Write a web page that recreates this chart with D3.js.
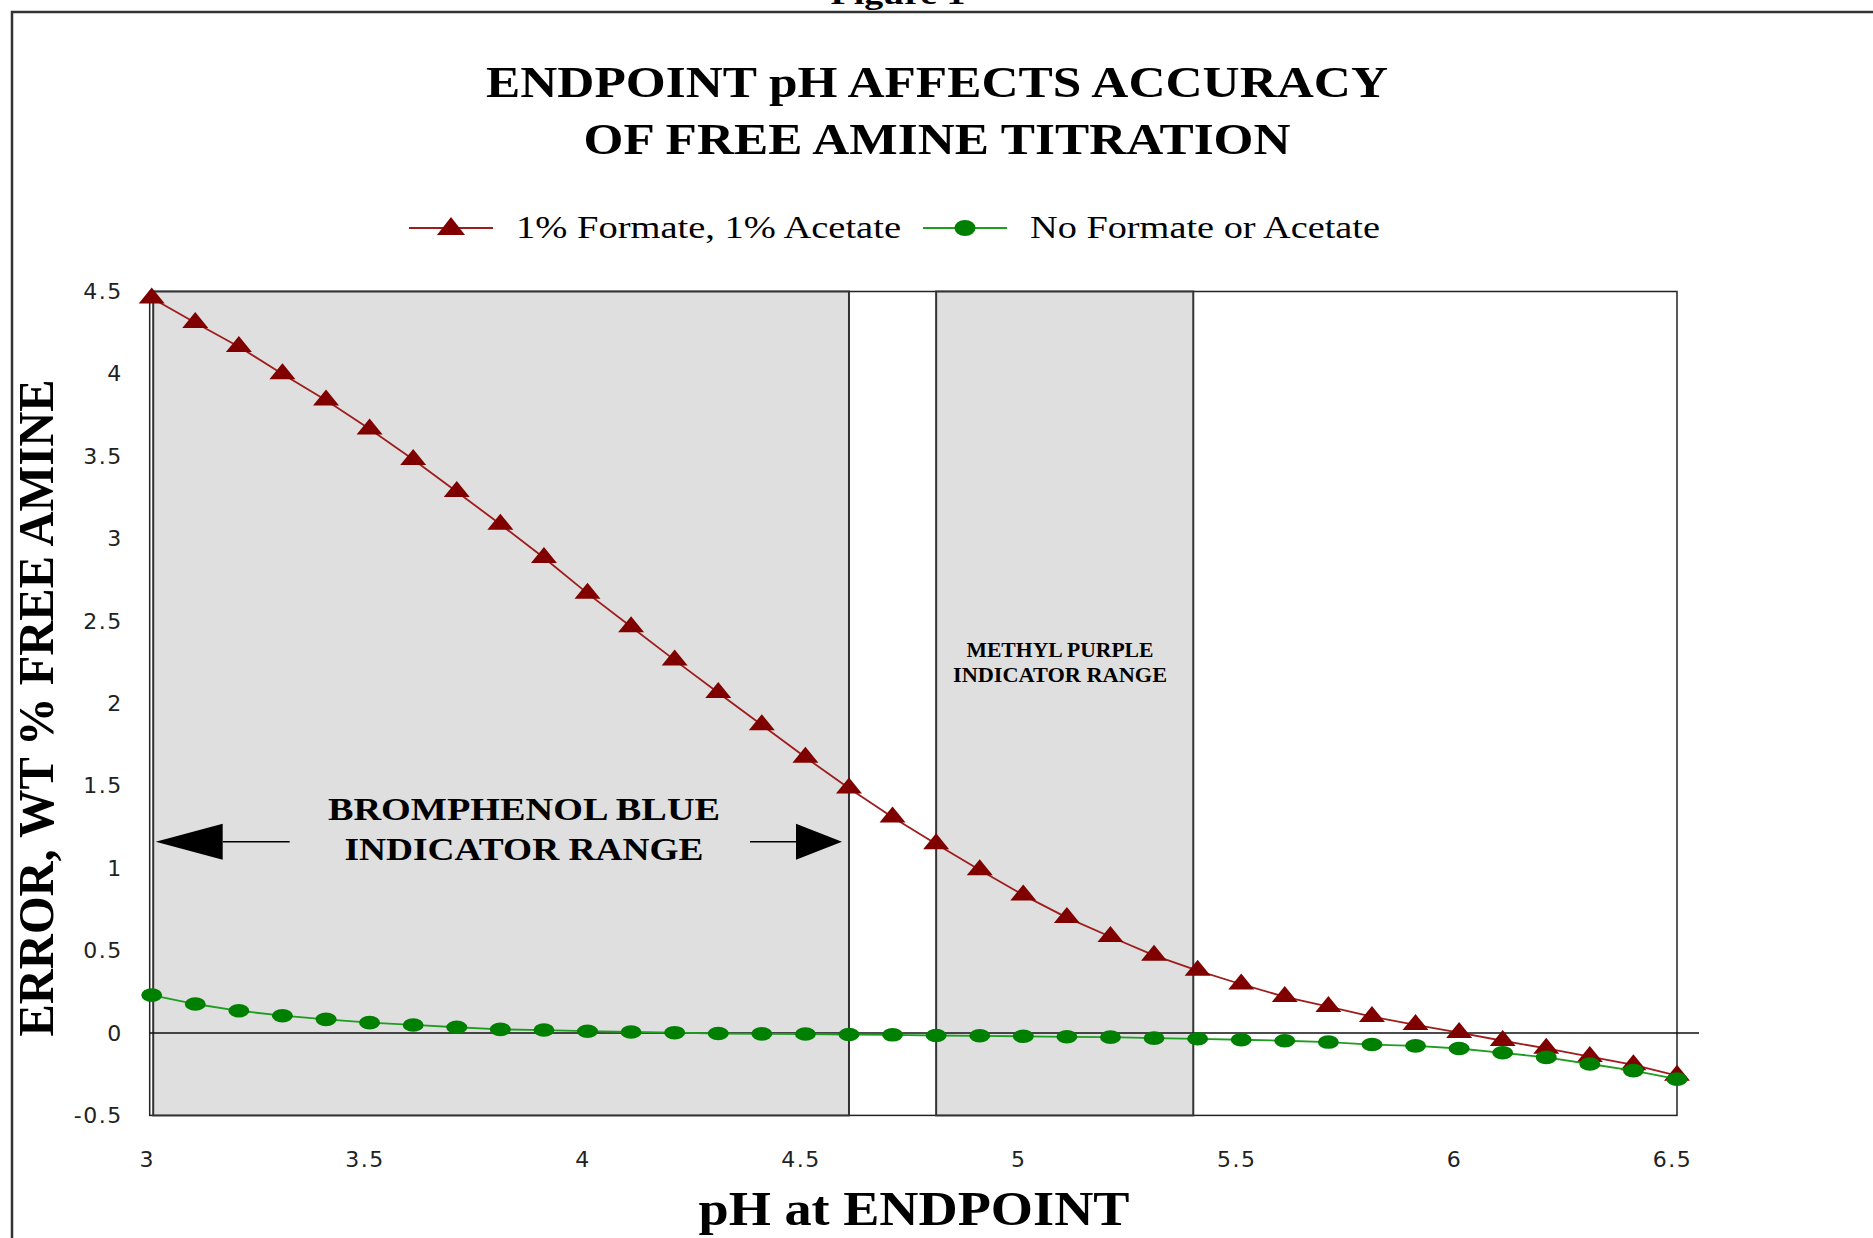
<!DOCTYPE html>
<html>
<head>
<meta charset="utf-8">
<script src="https://cdn.jsdelivr.net/npm/d3@7"></script>
<style>
  html, body { margin: 0; padding: 0; background: white; }
  svg { display: block; }
  .serif { font-family: "Liberation Serif", "Times New Roman", serif; }
  .tick text { font-family: "DejaVu Sans", sans-serif; fill: #222; }
</style>
</head>
<body>
<div id="chart"></div>
<script>
// pH at endpoint (x categories)
const phValues = [3.0, 3.1, 3.2, 3.3, 3.4, 3.5, 3.6, 3.7, 3.8, 3.9,
                  4.0, 4.1, 4.2, 4.3, 4.4, 4.5, 4.6, 4.7, 4.8, 4.9,
                  5.0, 5.1, 5.2, 5.3, 5.4, 5.5, 5.6, 5.7, 5.8, 5.9,
                  6.0, 6.1, 6.2, 6.3, 6.4, 6.5];

// error, wt % free amine
const formateAcetate = [4.46, 4.31, 4.165, 4.00, 3.84, 3.665, 3.48, 3.285, 3.087, 2.884,
                        2.668, 2.465, 2.263, 2.065, 1.869, 1.673, 1.485, 1.309, 1.147, 0.989,
                        0.837, 0.70, 0.584, 0.471, 0.379, 0.296, 0.22, 0.16, 0.099, 0.05,
                        0.002, -0.047, -0.093, -0.144, -0.194, -0.258];
const noFormate = [0.23, 0.176, 0.135, 0.105, 0.083, 0.063, 0.049, 0.035, 0.022, 0.018,
                   0.011, 0.006, 0.002, -0.003, -0.005, -0.006, -0.009, -0.011, -0.015, -0.017,
                   -0.02, -0.023, -0.025, -0.031, -0.035, -0.041, -0.047, -0.055, -0.07, -0.078,
                   -0.094, -0.12, -0.148, -0.188, -0.228, -0.28];

const seriesNames = ["1% Formate, 1% Acetate", "No Formate or Acetate"];

const xTicks = [3, 3.5, 4, 4.5, 5, 5.5, 6, 6.5];
const yTicks = [-0.5, 0, 0.5, 1, 1.5, 2, 2.5, 3, 3.5, 4, 4.5];

// indicator ranges (pH)
const rangeNames = ["BROMPHENOL BLUE", "METHYL PURPLE"];
const rangeLow = [3.0, 4.8];
const rangeHigh = [4.6, 5.39];

const titleLines = ["ENDPOINT pH AFFECTS ACCURACY", "OF FREE AMINE TITRATION"];


class TitrationChart {
    constructor(container, width, height, margin) {
        this.width = width;
        this.height = height;
        this.margin = margin;
        this.svg = container.append("svg")
            .attr("width", width)
            .attr("height", height);
        this.x = d3.scaleLinear()
            .domain([3, 6.5])
            .range([margin.left, width - margin.right]);
        this.y = d3.scaleLinear()
            .domain([-0.5, 4.5])
            .range([height - margin.bottom, margin.top]);
    }

    draw() {
        this.drawFrame();
        this.drawRanges();
        this.drawSeries(formateAcetate, "#9e1c1c", "#800000", "triangle");
        this.drawSeries(noFormate, "#1e9e1e", "#008000", "ellipse");
        this.drawAxes();
        this.drawLegend();
        this.drawTitles();
        this.drawAnnotations();
    }

    // page border + plot box
    drawFrame() {
        this.svg.append("rect")
            .attr("width", this.width).attr("height", this.height)
            .attr("fill", "white");

        // caption is cropped at the top edge in the original
        this.svg.append("text")
            .attr("class", "serif")
            .attr("x", 898).attr("y", 4)
            .attr("text-anchor", "middle")
            .attr("font-weight", "bold")
            .attr("font-size", 30)
            .attr("textLength", 135)
            .attr("lengthAdjust", "spacingAndGlyphs")
            .text("Figure 1");

        this.svg.append("path")
            .attr("d", `M12,${this.height} V12 H${this.width}`)
            .attr("fill", "none")
            .attr("stroke", "#333")
            .attr("stroke-width", 2.5);

        const [x0, x1] = this.x.range();
        const [y0, y1] = this.y.range();
        this.svg.append("rect")
            .attr("x", x0 - 2).attr("y", y1)
            .attr("width", x1 - x0 + 2).attr("height", y0 - y1)
            .attr("fill", "white")
            .attr("stroke", "#222")
            .attr("stroke-width", 1.5);
    }

    drawRanges() {
        const [y0, y1] = this.y.range();
        this.svg.append("g")
            .attr("class", "ranges")
            .selectAll("rect")
            .data(rangeNames)
            .enter().append("rect")
            .attr("x", (d, i) => this.x(rangeLow[i]) + (i === 0 ? 1.5 : 0))
            .attr("y", y1)
            .attr("width", (d, i) => this.x(rangeHigh[i]) - this.x(rangeLow[i]) - (i === 0 ? 1.5 : 0))
            .attr("height", y0 - y1)
            .attr("fill", "#dfdfdf")
            .attr("stroke", "#333")
            .attr("stroke-width", 2);

        // zero line runs a bit past the right edge
        this.svg.append("line")
            .attr("x1", this.x(3) - 2).attr("x2", this.x(6.5) + 22)
            .attr("y1", this.y(0)).attr("y2", this.y(0))
            .attr("stroke", "#111")
            .attr("stroke-width", 1.5);
    }

    drawSeries(values, lineColor, markColor, shape) {
        const pts = phValues.map((p, i) => [p, values[i]]);
        const line = d3.line()
            .x(d => this.x(d[0]))
            .y(d => this.y(d[1]));
        const g = this.svg.append("g");
        g.append("path")
            .attr("d", line(pts))
            .attr("fill", "none")
            .attr("stroke", lineColor)
            .attr("stroke-width", 1.8);
        this.drawMarkers(g, pts, markColor, shape);
    }

    drawMarkers(g, pts, color, shape) {
        if (shape === "triangle") {
            g.selectAll("path.mark")
                .data(pts)
                .enter().append("path")
                .attr("class", "mark")
                .attr("transform", d => `translate(${this.x(d[0])},${this.y(d[1])})`)
                .attr("d", "M0,-10.7 L13,5.3 L-13,5.3 Z")
                .attr("fill", color);
        } else {
            g.selectAll("ellipse")
                .data(pts)
                .enter().append("ellipse")
                .attr("cx", d => this.x(d[0]))
                .attr("cy", d => this.y(d[1]))
                .attr("rx", 10.5).attr("ry", 6.8)
                .attr("fill", color);
        }
    }

    drawAxes() {
        const yAxis = d3.axisLeft(this.y)
            .tickValues(yTicks)
            .tickSize(0)
            .tickPadding(29)
            .tickFormat(d => String(d));
        this.svg.append("g")
            .attr("transform", `translate(${this.x(3)},0)`)
            .call(yAxis)
            .call(g => g.select(".domain").remove())
            .selectAll("text")
            .attr("font-size", 22)
            .attr("letter-spacing", 1.5);

        const xAxis = d3.axisBottom(this.x)
            .tickValues(xTicks)
            .tickSize(0)
            .tickPadding(36)
            .tickFormat(d => String(d));
        this.svg.append("g")
            .attr("transform", `translate(0,${this.y(-0.5)})`)
            .call(xAxis)
            .call(g => g.select(".domain").remove())
            .selectAll("text")
            .attr("dx", -5)
            .attr("font-size", 22)
            .attr("letter-spacing", 1.5);

        // axis titles
        this.svg.append("text")
            .attr("class", "serif")
            .attr("x", 914).attr("y", 1225)
            .attr("text-anchor", "middle")
            .attr("font-weight", "bold")
            .attr("font-size", 48)
            .attr("textLength", 431)
            .attr("lengthAdjust", "spacingAndGlyphs")
            .text("pH at ENDPOINT");

        this.svg.append("text")
            .attr("class", "serif")
            .attr("transform", "translate(53,708) rotate(-90)")
            .attr("text-anchor", "middle")
            .attr("font-weight", "bold")
            .attr("font-size", 50)
            .attr("textLength", 657)
            .attr("lengthAdjust", "spacingAndGlyphs")
            .text("ERROR,  WT % FREE AMINE");
    }

    drawLegend() {
        const items = [
            {name: seriesNames[0], x1: 409, x2: 493, line: "#9e1c1c", mark: "#800000", shape: "triangle", tx: 516, len: 385},
            {name: seriesNames[1], x1: 923, x2: 1007, line: "#1e9e1e", mark: "#008000", shape: "ellipse", tx: 1030, len: 350}
        ];
        const ly = 228;
        const g = this.svg.append("g").attr("class", "legend");
        items.forEach(it => {
            g.append("line")
                .attr("x1", it.x1).attr("x2", it.x2)
                .attr("y1", ly).attr("y2", ly)
                .attr("stroke", it.line)
                .attr("stroke-width", 2);
            const cx = (it.x1 + it.x2) / 2;
            if (it.shape === "triangle") {
                g.append("path")
                    .attr("transform", `translate(${cx},${ly})`)
                    .attr("d", "M0,-11 L14,7 L-14,7 Z")
                    .attr("fill", it.mark);
            } else {
                g.append("ellipse")
                    .attr("cx", cx).attr("cy", ly)
                    .attr("rx", 10.5).attr("ry", 8)
                    .attr("fill", it.mark);
            }
            g.append("text")
                .attr("class", "serif")
                .attr("x", it.tx).attr("y", 238)
                .attr("font-size", 31)
                .attr("textLength", it.len)
                .attr("lengthAdjust", "spacingAndGlyphs")
                .text(it.name);
        });
    }

    drawTitles() {
        const base = [97, 154];
        const lens = [902, 707];
        this.svg.selectAll(".title")
            .data(titleLines)
            .enter().append("text")
            .attr("class", "title serif")
            .attr("x", 937)
            .attr("y", (d, i) => base[i])
            .attr("text-anchor", "middle")
            .attr("font-weight", "bold")
            .attr("font-size", 45)
            .attr("textLength", (d, i) => lens[i])
            .attr("lengthAdjust", "spacingAndGlyphs")
            .text(d => d);
    }

    // range labels and arrows
    drawAnnotations() {
        const g = this.svg.append("g").attr("class", "annotations");

        // bromphenol blue: arrows spanning the range
        const ay = this.y(1.16);
        const left = this.x(rangeLow[0]) + 4;
        const right = this.x(rangeHigh[0]) - 7;
        g.append("path")
            .attr("d", `M${left},${ay} L${left + 67},${ay - 18} L${left + 67},${ay + 18} Z`)
            .attr("fill", "black");
        g.append("line")
            .attr("x1", left + 67).attr("x2", left + 134)
            .attr("y1", ay).attr("y2", ay)
            .attr("stroke", "black").attr("stroke-width", 1.5);
        g.append("path")
            .attr("d", `M${right},${ay} L${right - 46},${ay - 18} L${right - 46},${ay + 18} Z`)
            .attr("fill", "black");
        g.append("line")
            .attr("x1", right - 46).attr("x2", right - 92)
            .attr("y1", ay).attr("y2", ay)
            .attr("stroke", "black").attr("stroke-width", 1.5);

        const bx = 524;
        [[rangeNames[0], 820, 392], ["INDICATOR RANGE", 860, 359]].forEach(([t, yy, len]) => {
            g.append("text")
                .attr("class", "serif")
                .attr("x", bx).attr("y", yy)
                .attr("text-anchor", "middle")
                .attr("font-weight", "bold")
                .attr("font-size", 31)
                .attr("textLength", len)
                .attr("lengthAdjust", "spacingAndGlyphs")
                .text(t);
        });

        // methyl purple label
        const mx = 1060;
        [[rangeNames[1], 657, 187], ["INDICATOR RANGE", 681.5, 214]].forEach(([t, yy, len]) => {
            g.append("text")
                .attr("class", "serif")
                .attr("x", mx).attr("y", yy)
                .attr("text-anchor", "middle")
                .attr("font-weight", "bold")
                .attr("font-size", 21)
                .attr("textLength", len)
                .attr("lengthAdjust", "spacingAndGlyphs")
                .text(t);
        });
    }
}

const chart = new TitrationChart(d3.select("#chart"), 1873, 1238,
    {top: 291.5, right: 196, bottom: 122.6, left: 151.7});
chart.draw();
</script>
</body>
</html>
